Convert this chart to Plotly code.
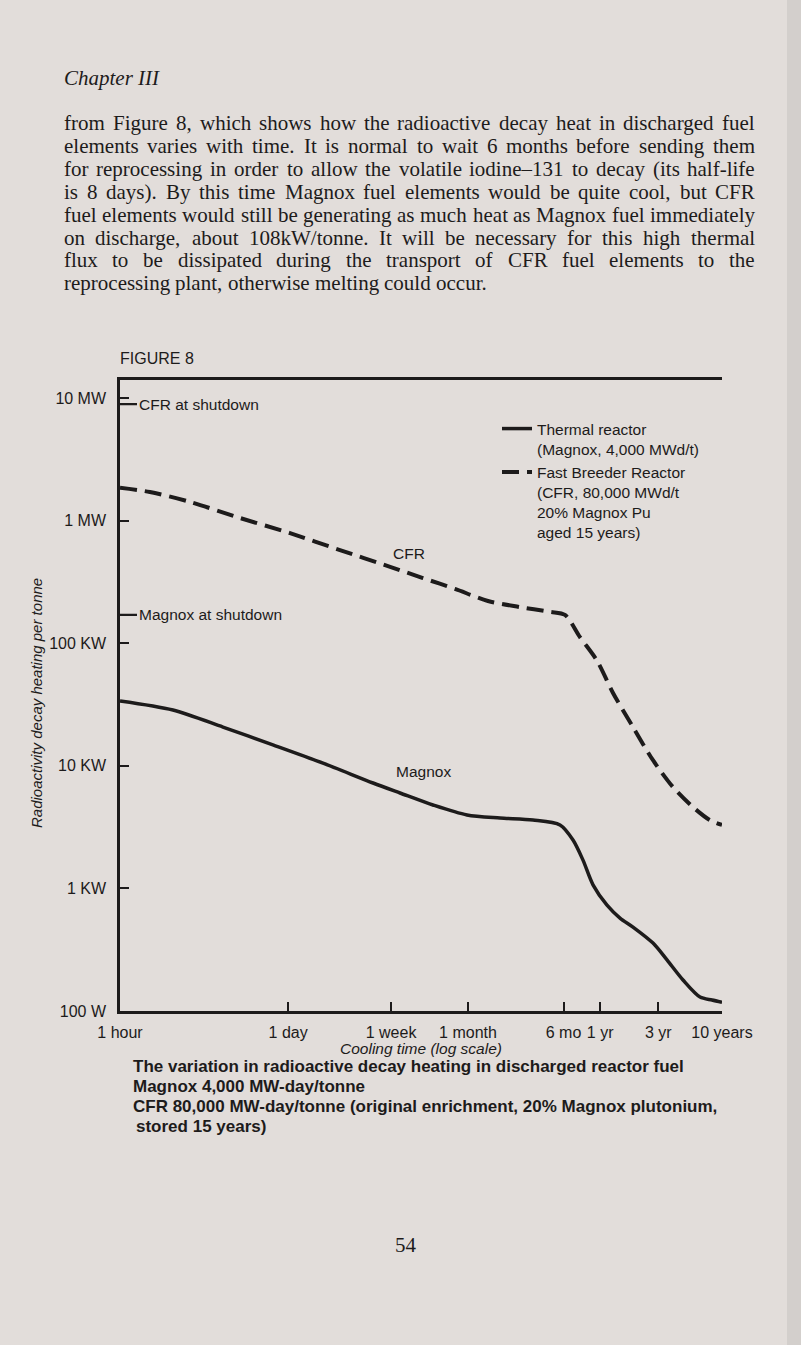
import math
import plotly.graph_objects as go

# ---------------- data ----------------
magnox_hours = [1, 2.72, 7.0, 18, 46.4, 119.5, 199, 371, 706, 1318, 2459, 4098,
                5239, 6329, 7645, 9963, 12740, 16280, 23770, 30970, 41920, 57800, 72530, 87600]
magnox_watts = [33800, 28500, 20700, 14800, 10500, 7240, 6000, 4790, 3970, 3750, 3610, 3290,
                2480, 1700, 1070, 730, 573, 484, 358, 261, 179, 130, 123, 118]

cfr_hours = [1, 1.76, 3.76, 9.66, 24.9, 64, 165, 307, 563, 1050, 1924, 3392, 4503,
             5980, 8248, 11160, 16280, 23770, 34700, 50630, 69830, 87600]
cfr_watts = [1.85e6, 1.71e6, 1.42e6, 1.05e6, 7.9e5, 5.75e5, 4.2e5, 3.4e5, 2.77e5, 2.21e5,
             1.97e5, 1.8e5, 1.7e5, 1.12e5, 7.2e4, 3.93e4, 2.07e4, 1.11e4, 6.7e3, 4.6e3, 3.6e3, 3.3e3]

x_tick_hours = [1, 24, 168, 720, 4380, 8760, 26280, 87600]
x_tick_labels = ["1 hour", "1 day", "1 week", "1 month", "6 mo", "1 yr", "3 yr", "10 years"]
y_tick_watts = [1e2, 1e3, 1e4, 1e5, 1e6, 1e7]
y_tick_labels = ["100 W", "1 KW", "10 KW", "100 KW", "1 MW", "10 MW"]

cfr_shutdown_watts = 8.9e6
magnox_shutdown_watts = 1.7e5

series_names = ["Thermal reactor<br>(Magnox, 4,000 MWd/t)",
                "Fast Breeder Reactor<br>(CFR, 80,000 MWd/t<br>20% Magnox Pu<br>aged 15 years)"]

chapter_title = "Chapter III"
paragraph_lines = [
    "from Figure 8, which shows how the radioactive decay heat in discharged fuel",
    "elements varies with time. It is normal to wait 6 months before sending them",
    "for reprocessing in order to allow the volatile iodine–131 to decay (its half-life",
    "is 8 days). By this time Magnox fuel elements would be quite cool, but CFR",
    "fuel elements would still be generating as much heat as Magnox fuel immediately",
    "on discharge, about 108kW/tonne. It will be necessary for this high thermal",
    "flux to be dissipated during the transport of CFR fuel elements to the",
    "reprocessing plant, otherwise melting could occur.",
]
figure_label = "FIGURE 8"
x_title = "Cooling time (log scale)"
y_title = "Radioactivity decay heating per tonne"
caption_lines = [
    "The variation in radioactive decay heating in discharged reactor fuel",
    "Magnox 4,000 MW-day/tonne",
    "CFR 80,000 MW-day/tonne (original enrichment, 20% Magnox plutonium,",
    "stored 15 years)",
]
page_number = "54"

# ---------------- layout constants (pixels) ----------------
W, H = 801, 1345
L, R, T, B = 120, 722, 380, 1011
PW, PH = R - L, B - T
INK = "#1d1b1b"
PAGE = "#e2ddda"
SANS = "Liberation Sans, Arial, sans-serif"
SERIF = "Liberation Serif, Times New Roman, serif"

Y_TOP = 2 + PH / 122.6  # log10 range top


def P(px, py):
    return (px - L) / PW, (B - py) / PH


# Times / Liberation Serif advance widths (1/1000 em) for justification
TW = dict(a=444, b=500, c=444, d=500, e=444, f=333, g=500, h=500, i=278, j=278, k=500, l=278,
          m=778, n=500, o=500, p=500, q=500, r=333, s=389, t=278, u=500, v=500, w=722, x=500,
          y=500, z=444, A=722, B=667, C=667, D=722, E=611, F=556, G=722, H=722, I=333, J=389,
          K=722, L=611, M=889, N=722, O=722, P=556, Q=722, R=667, S=556, T=611, U=722, V=722,
          W=944, X=722, Y=722, Z=611)
TW.update({" ": 250, ",": 250, ".": 250, "(": 333, ")": 333, "-": 333, "–": 500, "/": 278})
for dch in "0123456789":
    TW[dch] = 500


def tw(s, size):
    return sum(TW.get(ch, 500) for ch in s) / 1000.0 * size


fig = go.Figure()
fig.add_trace(go.Scatter(x=magnox_hours, y=magnox_watts, mode="lines", name=series_names[0],
                         line=dict(color=INK, width=3.5, shape="spline", smoothing=0.8),
                         hoverinfo="skip"))
fig.add_trace(go.Scatter(x=cfr_hours, y=cfr_watts, mode="lines", name=series_names[1],
                         line=dict(color=INK, width=4, dash="17px,8px", shape="spline", smoothing=0.8),
                         hoverinfo="skip"))

ann = []

# in-plot labels
ann.append(dict(x=(409 - L) / 121.8, y=2 + (B - 553) / 122.6, xref="x", yref="y", text="CFR",
                showarrow=False, font=dict(family=SANS, size=15.5, color=INK)))
ann.append(dict(x=(423 - L) / 121.8, y=2 + (B - 771) / 122.6, xref="x", yref="y", text="Magnox",
                showarrow=False, font=dict(family=SANS, size=15.5, color=INK)))
for lvl, txt in [(cfr_shutdown_watts, "CFR at shutdown"), (magnox_shutdown_watts, "Magnox at shutdown")]:
    ann.append(dict(x=0, y=math.log10(lvl), xref="x", yref="y", text=txt, showarrow=True,
                    ax=17, ay=0, xanchor="left", arrowhead=0, arrowwidth=2.2, arrowcolor=INK,
                    standoff=0, startstandoff=0, font=dict(family=SANS, size=15.5, color=INK)))

# chapter heading + paragraph (justified)
px0, px1 = 63, 754
hx, hy = P(62, 78)
ann.append(dict(x=hx, y=hy, xref="paper", yref="paper", text="<i>" + chapter_title + "</i>",
                showarrow=False, xanchor="left", yanchor="middle",
                font=dict(family=SERIF, size=21, color=INK)))
FS = 21
for i, line in enumerate(paragraph_lines):
    py = 123 + i * 22.9
    words = line.split(" ")
    if i < len(paragraph_lines) - 1:
        natural = sum(tw(wd, FS) for wd in words)
        gap = (px1 - px0 - natural) / (len(words) - 1)
    else:
        gap = tw(" ", FS)
    cx = px0
    for wd in words:
        xx, yy = P(cx, py)
        ann.append(dict(x=xx, y=yy, xref="paper", yref="paper", text=wd, showarrow=False,
                        xanchor="left", yanchor="middle", borderpad=0,
                        font=dict(family=SERIF, size=FS, color=INK)))
        cx += tw(wd, FS) + gap

# figure label
fx, fy = P(118, 358)
ann.append(dict(x=fx, y=fy, xref="paper", yref="paper", text=figure_label, showarrow=False,
                xanchor="left", yanchor="middle", font=dict(family=SANS, size=16, color=INK)))

# axis titles
tx, ty = P(421, 1048)
ann.append(dict(x=tx, y=ty, xref="paper", yref="paper", text="<i>" + x_title + "</i>",
                showarrow=False, xanchor="center", yanchor="middle",
                font=dict(family=SANS, size=15.5, color=INK)))
yx, yy = P(36, 703)
ann.append(dict(x=yx, y=yy, xref="paper", yref="paper", text="<i>" + y_title + "</i>",
                showarrow=False, textangle=-90, xanchor="center", yanchor="middle",
                font=dict(family=SANS, size=15, color=INK)))

# caption
for i, line in enumerate(caption_lines):
    cx_, cy_ = P(131 if i < 3 else 134, 1066 + i * 20)
    ann.append(dict(x=cx_, y=cy_, xref="paper", yref="paper", text="<b>" + line + "</b>",
                    showarrow=False, xanchor="left", yanchor="middle",
                    font=dict(family=SANS, size=17, color=INK)))

# page number
nx, ny = P(406, 1245)
ann.append(dict(x=nx, y=ny, xref="paper", yref="paper", text=page_number, showarrow=False,
                xanchor="center", yanchor="middle", font=dict(family=SERIF, size=21, color=INK)))

# page binding edge
ex0, ey0 = P(787, H)
ex1, ey1 = P(W + 2, -2)
shapes = [dict(type="rect", xref="paper", yref="paper", x0=ex0, x1=ex1, y0=ey0, y1=ey1,
               fillcolor="#d3cfcc", line=dict(width=0), layer="below")]

axis_common = dict(showgrid=False, zeroline=False, linecolor=INK, linewidth=2.5,
                   tickcolor=INK, tickwidth=2.2, ticks="inside", ticklen=9,
                   tickfont=dict(family=SANS, size=16, color=INK))

fig.update_layout(
    width=W, height=H,
    margin=dict(l=L, r=W - R, t=T, b=H - B, pad=0, autoexpand=False),
    paper_bgcolor=PAGE, plot_bgcolor=PAGE,
    xaxis=dict(type="log", range=[0, math.log10(87600)], tickvals=x_tick_hours,
               ticktext=x_tick_labels, showline=True, mirror=True, ticklabelstandoff=5,
               **axis_common),
    yaxis=dict(type="log", range=[2, Y_TOP], tickvals=y_tick_watts, ticktext=y_tick_labels,
               showline=True, mirror=False, ticklabelstandoff=8, **axis_common),
    yaxis2=dict(type="log", range=[2, Y_TOP], tickvals=y_tick_watts, ticktext=y_tick_labels,
                overlaying="y", side="right", showline=True, ticklabelstandoff=8, **axis_common),
    showlegend=True,
    legend=dict(x=(497 - L) / PW, y=(B - 412) / PH, xanchor="left", yanchor="top",
                bgcolor="rgba(0,0,0,0)", borderwidth=0, valign="top",
                font=dict(family=SANS, size=15.5, color=INK), itemclick=False,
                itemdoubleclick=False, tracegroupgap=8),
    annotations=ann,
    shapes=shapes,
)

fig.write_html("out.html", config={"displayModeBar": False},
               post_script="document.body.style.margin='0';document.body.style.overflow='hidden';")
